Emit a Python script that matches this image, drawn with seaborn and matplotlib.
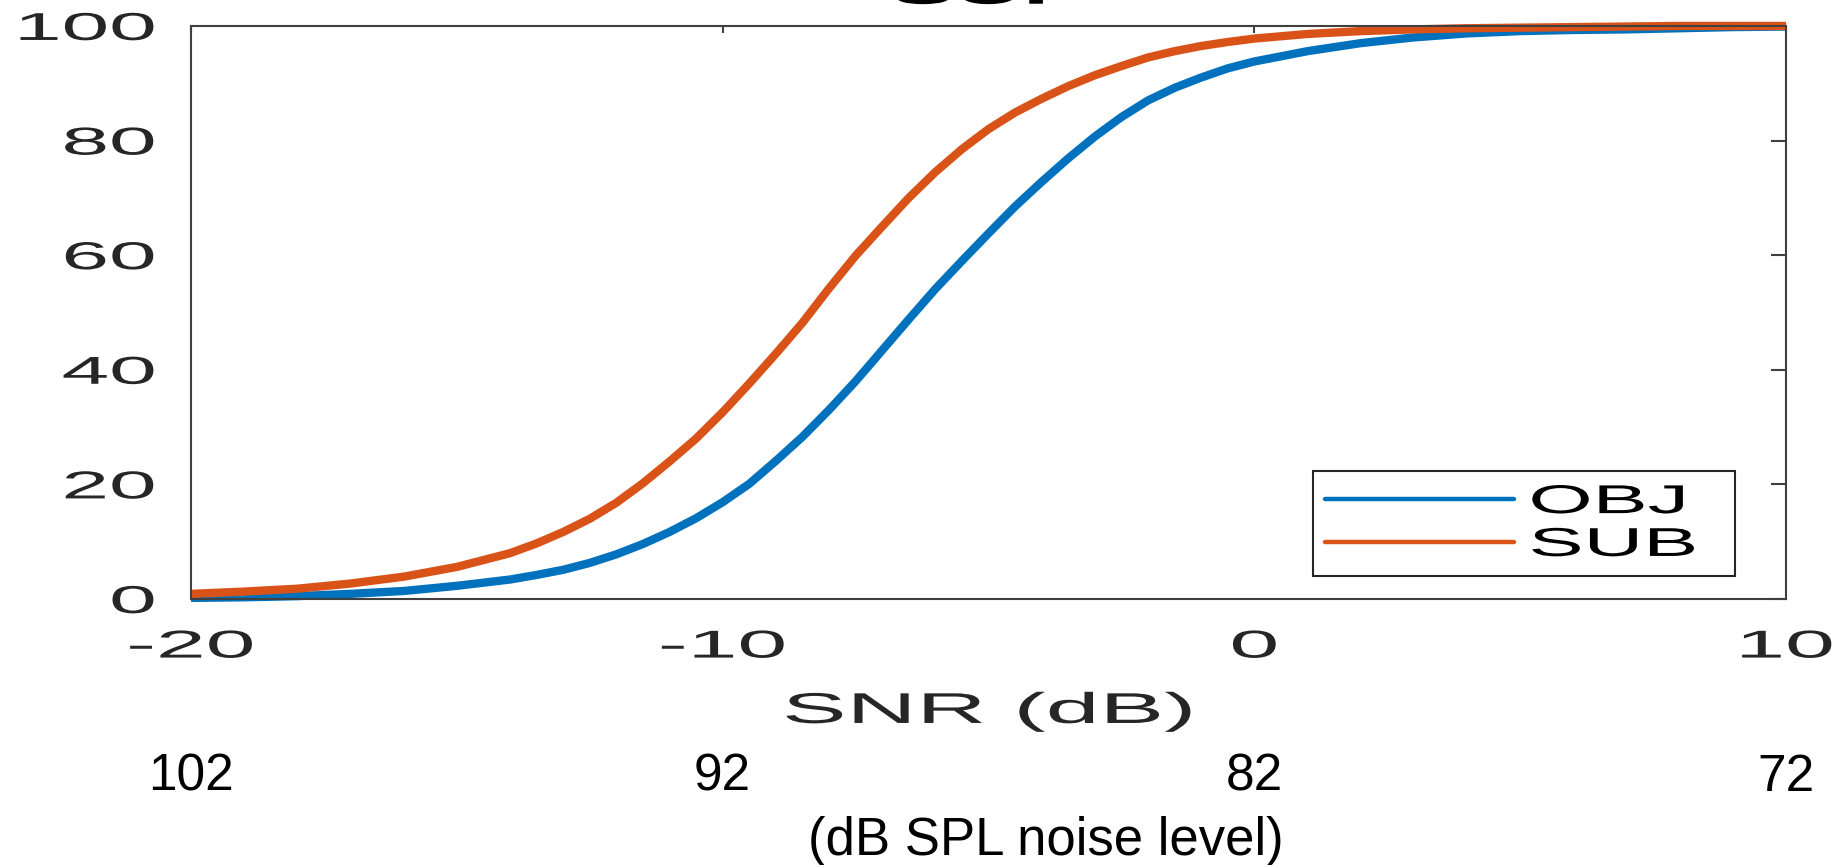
import matplotlib
matplotlib.use("Agg")
import matplotlib.pyplot as plt
import numpy as np
import pandas as pd
import seaborn as sns
from matplotlib.patheffects import AbstractPathEffect
from matplotlib.transforms import Affine2D

# ---------------- data ----------------
snr_db = [-20, -19, -18, -17, -16, -15, -14,
          -13.5, -13, -12.5, -12, -11.5, -11, -10.5, -10, -9.5, -9, -8.5, -8,
          -7.5, -7, -6.5, -6, -5.5, -5, -4.5, -4, -3.5, -3, -2.5, -2, -1.5, -1,
          -0.5, 0,
          1, 2, 3, 4, 5, 6, 7, 8, 9, 10]
obj_pct = [0.2, 0.3, 0.5, 0.9, 1.4, 2.3, 3.4,
           4.2, 5.1, 6.3, 7.8, 9.6, 11.7, 14.1, 16.9, 20.1, 24.1, 28.3, 33.0,
           38.0, 43.4, 48.8, 54.1, 59.0, 63.8, 68.5, 72.8, 76.9, 80.7, 84.1,
           87.0, 89.2, 91.0, 92.6, 93.8,
           95.6, 97.0, 98.0, 98.7, 99.1, 99.3, 99.4, 99.6, 99.8, 99.9]
sub_pct = [0.9, 1.3, 1.8, 2.7, 3.9, 5.6, 8.0,
           9.7, 11.7, 14.0, 16.8, 20.2, 24.0, 28.0, 32.6, 37.6, 42.8, 48.2, 54.2,
           59.9, 65.0, 70.0, 74.5, 78.5, 82.0, 84.9, 87.3, 89.5, 91.4, 93.0,
           94.5, 95.6, 96.5, 97.2, 97.8,
           98.6, 99.1, 99.4, 99.6, 99.7, 99.8, 99.9, 100.0, 100.0, 100.0]
series_names = ["OBJ", "SUB"]
series_colors = ["#0072BD", "#D95319"]
x_ticks = [-20, -10, 0, 10]
y_ticks = [0, 20, 40, 60, 80, 100]
spl_ticks = [102, 92, 82, 72]
title_text = "SUP"
x_label = "SNR (dB)"
spl_label = "(dB SPL noise level)"


class HStretch(AbstractPathEffect):
    """Draw text horizontally stretched (the reference image is stretched)."""

    def __init__(self, sx, anchor="center"):
        super().__init__()
        self.sx = sx
        self.anchor = anchor

    def draw_path(self, renderer, gc, tpath, affine, rgbFace=None):
        ext = tpath.transformed(affine).get_extents()
        if self.anchor == "right":
            x0 = ext.x1
        elif self.anchor == "left":
            x0 = ext.x0
        else:
            x0 = 0.5 * (ext.x0 + ext.x1)
        t = affine + Affine2D().translate(-x0, 0).scale(self.sx, 1.0).translate(x0, 0)
        renderer.draw_path(gc, tpath, t, rgbFace)


sns.set_theme(style="white")
plt.rcParams["font.family"] = ["Liberation Sans", "DejaVu Sans"]
plt.rcParams["axes.unicode_minus"] = False

df = pd.DataFrame({
    "SNR": snr_db + snr_db,
    "pct": obj_pct + sub_pct,
    "cond": [series_names[0]] * len(snr_db) + [series_names[1]] * len(snr_db),
})

fig = plt.figure(figsize=(18.42, 8.65), dpi=100)
fig.patch.set_facecolor("white")
ax = fig.add_axes([0.1037, 0.3075, 0.8659, 0.6625])
ax.set_facecolor("white")

sns.lineplot(data=df, x="SNR", y="pct", hue="cond", hue_order=series_names,
             palette=series_colors, linewidth=6, errorbar=None, ax=ax,
             legend=True)
for ln in ax.get_lines():
    ln.set_clip_on(False)
    ln.set_solid_capstyle("butt")
    ln.set_solid_joinstyle("round")

ax.set_xlim(-20, 10)
ax.set_ylim(0, 100)
ax.set_xticks(x_ticks)
ax.set_yticks(y_ticks)

axis_col = "#262626"
for s in ax.spines.values():
    s.set_visible(True)
    s.set_color("#404040")
    s.set_linewidth(1.5)
ax.tick_params(axis="both", which="both", direction="in", top=True, right=True,
               color="#404040", width=1.5, labelcolor=axis_col, labelsize=28)
ax.tick_params(axis="y", length=11, pad=26)
ax.tick_params(axis="x", length=5, pad=22)

for lbl in ax.get_yticklabels():
    lbl.set_path_effects([HStretch(2.2, "right")])
for lbl in ax.get_xticklabels():
    lbl.set_path_effects([HStretch(2.3, "center")])

ax.set_xlabel(x_label, fontsize=31, color=axis_col, labelpad=19)
ax.xaxis.label.set_path_effects([HStretch(2.25, "center")])
ax.set_ylabel("")

t = ax.set_title(title_text, fontsize=31, fontweight="bold", color="black", pad=16)
t.set_path_effects([HStretch(2.2, "center")])

# legend
old = ax.get_legend()
handles = list(old.legend_handles)
labels = [tx.get_text() for tx in old.texts]
old.remove()
leg = ax.legend(handles, labels, loc="lower left",
                bbox_to_anchor=(0.7034, 0.0401, 0.2646, 0.19), mode="expand",
                borderaxespad=0, borderpad=0.3, labelspacing=0.12,
                handlelength=4.7, handletextpad=0.4, fontsize=29,
                frameon=True, fancybox=False, framealpha=1, edgecolor="#262626")
leg.get_frame().set_linewidth(1.5)
for h in leg.legend_handles:
    h.set_linewidth(3.2)
for tx in leg.get_texts():
    tx.set_color("black")
    tx.set_path_effects([HStretch(2.05, "left")])

# secondary axis: noise level in dB SPL
sec = ax.secondary_xaxis(-0.268, functions=(lambda x: 82 - x, lambda s: 82 - s))
sec.set_xticks(spl_ticks)
sec.spines["bottom"].set_visible(False)
sec.tick_params(axis="x", length=0, pad=0, labelsize=37, labelcolor="black")
sec.set_xlabel(spl_label, fontsize=38, color="black")
sec.xaxis.set_label_coords(0.536, -0.423, transform=ax.transAxes)
sec.xaxis.label.set_verticalalignment("center")

fig.savefig("out.png", dpi=100, facecolor="white")
